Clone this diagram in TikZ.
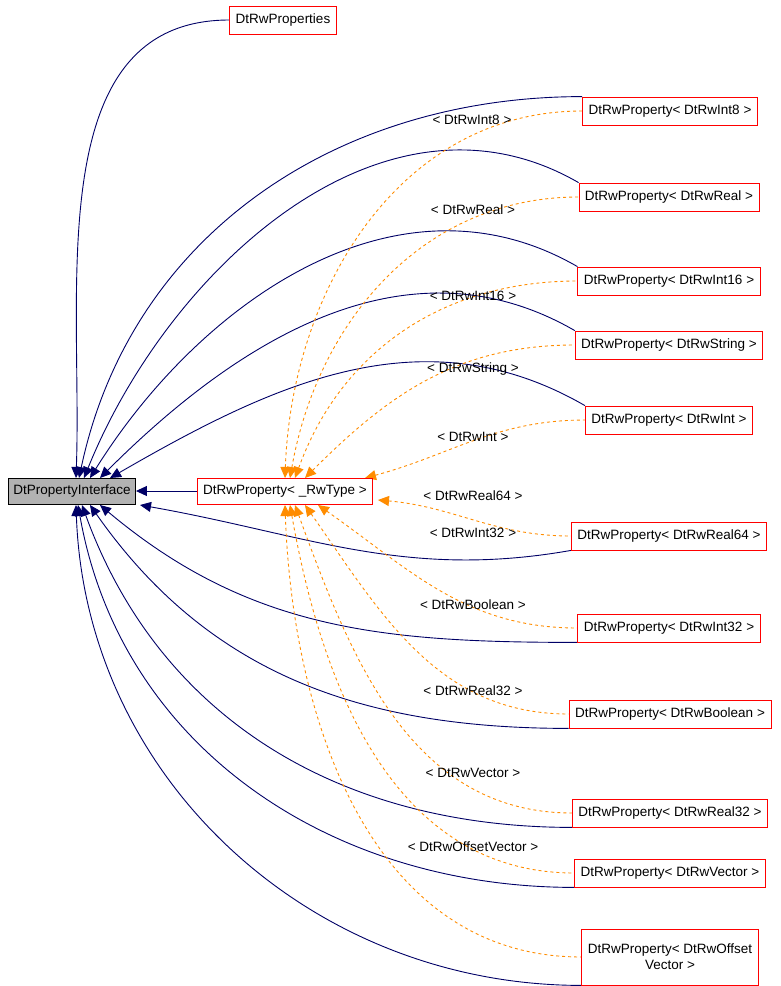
\documentclass[tikz,border=0pt]{standalone}
\usepackage{fontspec}
\setmainfont{Liberation Sans}
\usetikzlibrary{arrows.meta,backgrounds}
\begin{document}
\begin{tikzpicture}[
    x=1pt,y=-1pt,
    font=\fontsize{13.5}{16}\selectfont,
    cls/.style={rectangle,draw=red,line width=0.8pt,fill=white,inner xsep=6pt,inner ysep=4pt,minimum height=28pt,align=center},
    base/.style={rectangle,draw=black,line width=0.8pt,fill=black!30,inner xsep=5pt,inner ysep=4pt,minimum height=26pt},
    inh/.style={draw=blue!40!black,line width=0.9pt,{Triangle[length=11pt,width=10pt]}-},
    tpl/.style={draw=orange!90!yellow,line width=0.9pt,dashed,{Triangle[length=11pt,width=10pt]}-},
    lbl/.style={inner sep=1pt}
    ]
    \useasboundingbox (0,0) rectangle (781,986);
    % classes
    \node (iface) [base] at (72,491) {DtPropertyInterface};
    \node (props) [cls] at (283,20) {DtRwProperties};
    \node (tmpl) [cls,minimum height=26pt] at (285,491) {DtRwProperty< \_RwType >};
    \node (int8) [cls] at (670,111) {DtRwProperty< DtRwInt8 >};
    \node (real) [cls] at (669,197) {DtRwProperty< DtRwReal >};
    \node (int16) [cls] at (669,281) {DtRwProperty< DtRwInt16 >};
    \node (string) [cls] at (669,345) {DtRwProperty< DtRwString >};
    \node (int) [cls] at (669,420) {DtRwProperty< DtRwInt >};
    \node (real64) [cls] at (669,536) {DtRwProperty< DtRwReal64 >};
    \node (int32) [cls] at (669,628) {DtRwProperty< DtRwInt32 >};
    \node (bool) [cls] at (670,714) {DtRwProperty< DtRwBoolean >};
    \node (real32) [cls] at (670,813) {DtRwProperty< DtRwReal32 >};
    \node (vector) [cls] at (670,873) {DtRwProperty< DtRwVector >};
    \node (offset) [cls,minimum height=56pt] at (670,957) {DtRwProperty< DtRwOffset\\Vector >};
    \begin{scope}[on background layer]
    % inheritance
    \draw[inh] (iface.east) -- (tmpl.west);
    \draw[inh] (76,478) to[out=88,in=180] (props.west);
    \draw[inh] (79,478) to[out=78,in=180] (int8.north west);
    \draw[inh] (84,478) to[out=68,in=150] (real.north west);
    \draw[inh] (90,478) to[out=58,in=150] (int16.north west);
    \draw[inh] (100,478) to[out=45,in=150] (string.north west);
    \draw[inh] (110,478) to[out=30,in=150] (int.north west);
    \draw[inh] (140,505) to[out=-10,in=190] (real64.south west);
    \draw[inh] (100,505) to[out=-40,in=180] (int32.south west);
    \draw[inh] (90,505) to[out=-55,in=180] (bool.south west);
    \draw[inh] (82,505) to[out=-70,in=180] (real32.south west);
    \draw[inh] (78,505) to[out=-80,in=180] (vector.south west);
    \draw[inh] (76,505) to[out=-88,in=180] (offset.south west);
    % template instances
    \draw[tpl] (285,478) to[out=88,in=180] (int8.west);
    \draw[tpl] (290,478) to[out=80,in=180] (real.west);
    \draw[tpl] (295,478) to[out=70,in=180] (int16.west);
    \draw[tpl] (305,478) to[out=45,in=180] (string.west);
    \draw[tpl] (365,478) to[out=15,in=180] (int.west);
    \draw[tpl] (378,500) to[out=-5,in=180] (real64.west);
    \draw[tpl] (318,505) to[out=-35,in=180] (int32.west);
    \draw[tpl] (305,505) to[out=-55,in=180] (bool.west);
    \draw[tpl] (295,505) to[out=-70,in=180] (real32.west);
    \draw[tpl] (290,505) to[out=-80,in=180] (vector.west);
    \draw[tpl] (285,505) to[out=-88,in=180] (offset.west);
    \end{scope}
    % labels
    \node (l1) [lbl] at (472,120) {< DtRwInt8 >};
    \node (l2) [lbl] at (473,210) {< DtRwReal >};
    \node (l3) [lbl] at (473,296) {< DtRwInt16 >};
    \node (l4) [lbl] at (473,369) {< DtRwString >};
    \node (l5) [lbl] at (473,437) {< DtRwInt >};
    \node (l6) [lbl] at (473,496) {< DtRwReal64 >};
    \node (l7) [lbl] at (473,533) {< DtRwInt32 >};
    \node (l8) [lbl] at (473,605) {< DtRwBoolean >};
    \node (l9) [lbl] at (473,691) {< DtRwReal32 >};
    \node (l10) [lbl] at (473,773) {< DtRwVector >};
    \node (l11) [lbl] at (473,847) {< DtRwOffsetVector >};
\end{tikzpicture}
\end{document}
